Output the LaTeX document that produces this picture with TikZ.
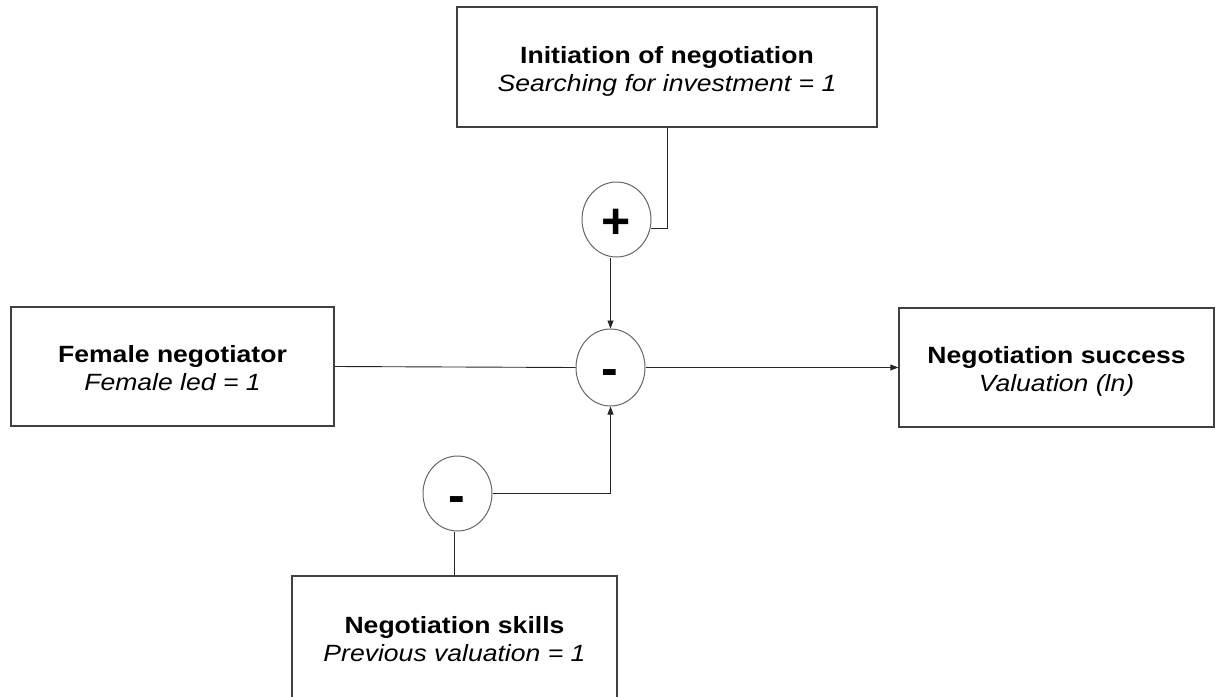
\documentclass[tikz,border=0pt]{standalone}
\usepackage{fontspec}
\setmainfont{Liberation Sans}[FakeStretch=1.13]
\newfontfamily\signfont{Liberation Sans}
\usetikzlibrary{shapes.geometric,arrows.meta}
\tikzset{
  box/.style={draw=black!75, line width=1.3pt, fill=white, align=center, inner sep=0pt,
    font=\fontsize{23.5}{28}\selectfont},
  sgncirc/.style={ellipse, draw=black!60, line width=1pt, inner sep=0pt, minimum width=69pt},
  sgn/.style={anchor=base, inner sep=0pt, font=\signfont\bfseries\fontsize{50}{50}\selectfont},
  conn/.style={draw=black!85, line width=0.9pt},
  arr/.style={conn, -{Triangle[length=8pt,width=6pt]}}
}
\newcommand{\boxtext}[2]{\textbf{\rule{0pt}{25pt}#1}\\\textit{#2\rule[-5pt]{0pt}{5pt}}}
\begin{document}
\begin{tikzpicture}[x=1pt,y=-1pt]
\useasboundingbox (0,0) rectangle (1215,696);
\node[box, minimum width=420pt, minimum height=120pt] (ib) at (667,67)
  {\boxtext{Initiation of negotiation}{Searching for investment = 1}};
\node[box, minimum width=323pt, minimum height=119pt] (fn) at (172.5,366.5)
  {\boxtext{Female negotiator}{Female led = 1}};
\node[box, minimum width=315pt, minimum height=119pt] (ns) at (1056.5,367.5)
  {\boxtext{Negotiation success}{Valuation (ln)}};
\node[box, minimum width=325pt, minimum height=122pt] (sk) at (454.5,637)
  {\boxtext{Negotiation skills}{Previous valuation = 1}};

\node[sgncirc, minimum height=75pt] (pc) at (616.5,219.5) {};
\node[sgncirc, minimum height=77pt] (mc) at (610.5,367.5) {};
\node[sgncirc, minimum height=75pt] (lc) at (457.5,493.5) {};
\node[sgn] (ps) at (616,238.5) {+};
\node[sgn] (ms) at (609.5,385.5) {-};
\node[sgn] (ls) at (456.5,512.5) {-};

\draw[conn] (ib.south) |- (pc.-14);
\draw[arr] (pc.south -| mc.north) -- (mc.north);
\draw[conn] (fn.east) -- (mc.west);
\draw[arr] (mc.east) -- (ns.west);
\draw[arr] (lc.east) -| (mc.south);
\draw[conn] (sk.north |- lc.south) -- (sk.north);
\end{tikzpicture}
\end{document}
